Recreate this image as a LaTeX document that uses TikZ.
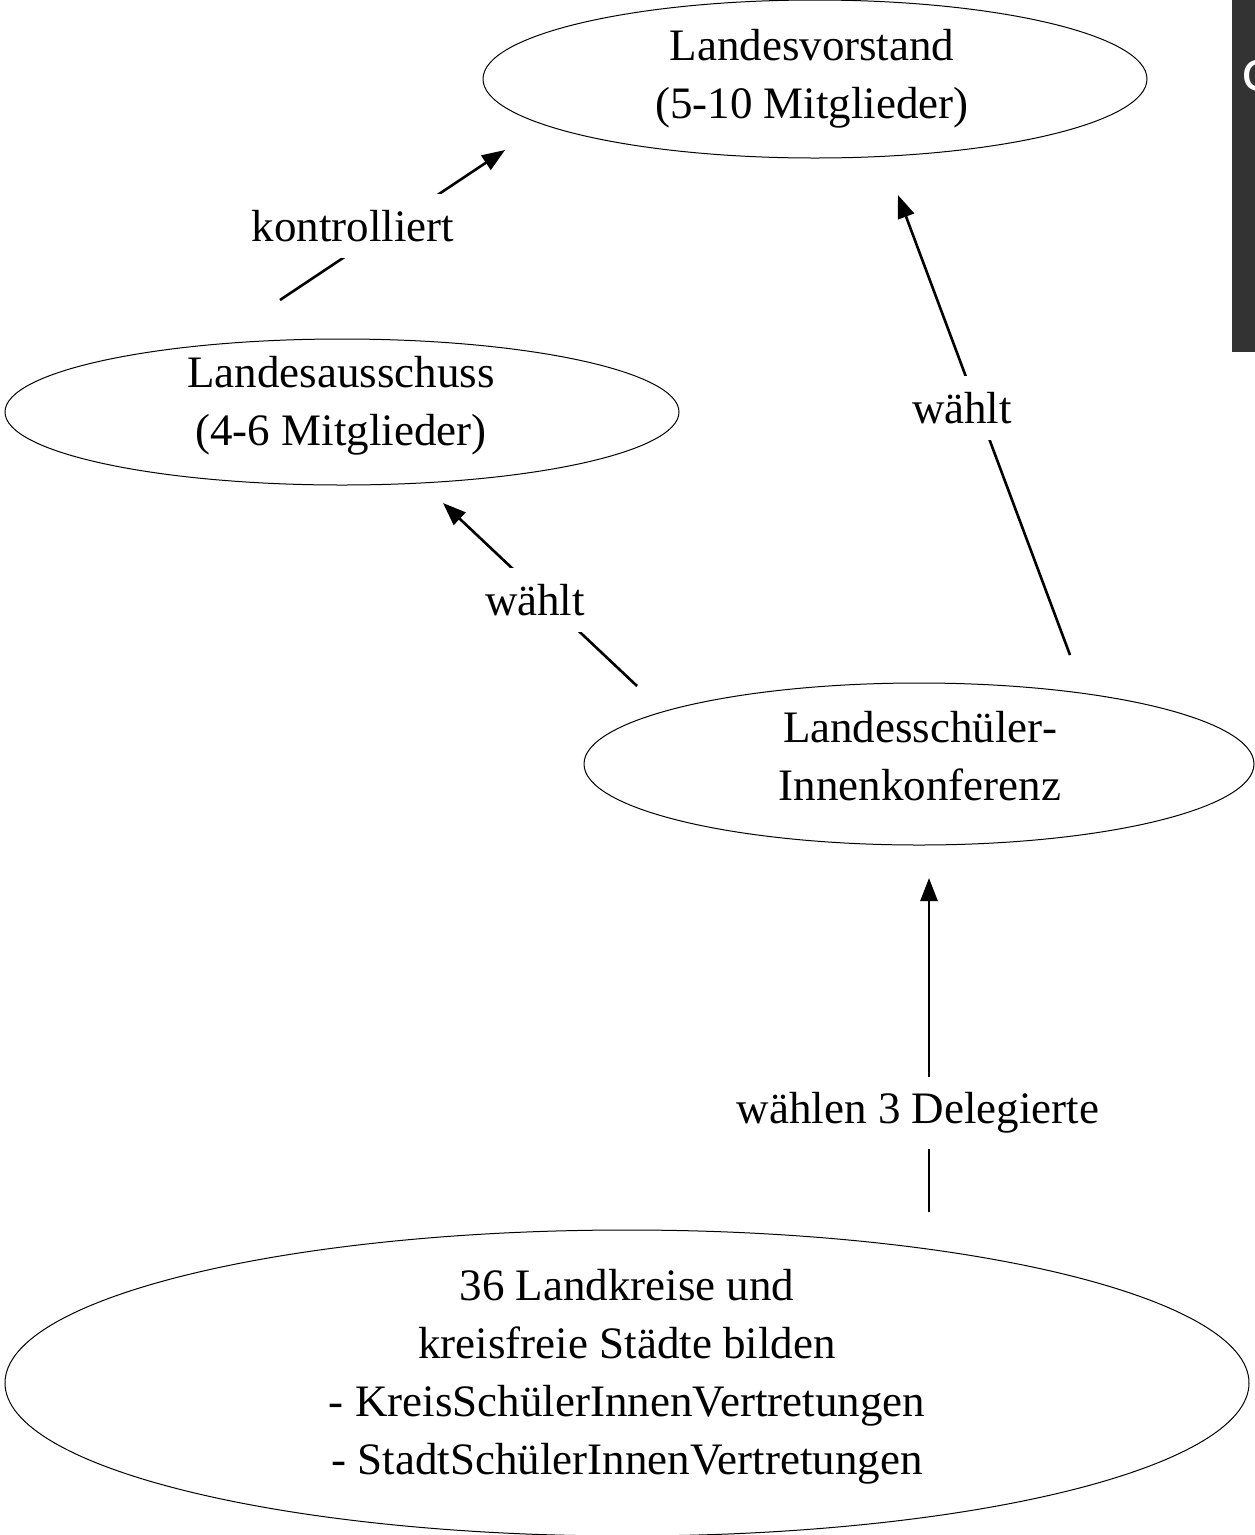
\documentclass[tikz,border=0pt]{standalone}
\usepackage{fontspec}
\setmainfont{Liberation Serif}
\newfontfamily\sidefont{DejaVu Sans}
\usetikzlibrary{shapes.geometric,arrows.meta}
\definecolor{sidebar}{HTML}{333333}
\tikzset{
  body/.style={draw=black, line width=1pt, ellipse, inner sep=0pt},
  txt/.style={align=center, font=\fontsize{45}{58}\selectfont, inner sep=0pt},
  lbl/.style={fill=white, font=\fontsize{45}{58}\selectfont, inner xsep=14pt, inner ysep=16pt},
  conn/.style={line width=2.6pt, -{Triangle[length=23pt,width=17pt]}}
}
\begin{document}
\begin{tikzpicture}[x=1pt,y=-1pt]
\useasboundingbox (0,0) rectangle (1255,1535);
% sidebar
\fill[sidebar] (1232,0) rectangle (1255,352);
\begin{scope}
\clip (1232,0) rectangle (1255,352);
\node[anchor=west, text=white, font=\sidefont\fontsize{54}{60}\selectfont, inner sep=0pt] (sidec) at (1241,76) {c};
\end{scope}
% ellipses
\node[body, minimum width=664pt, minimum height=158pt] (lv) at (815,79) {};
\node[txt] (lvt) at (812,79) {Landesvorstand\\(5-10 Mitglieder)};
\node[body, minimum width=674pt, minimum height=146pt] (la) at (342,412) {};
\node[txt] (lat) at (341,406) {Landesausschuss\\(4-6 Mitglieder)};
\node[body, minimum width=670pt, minimum height=162pt] (lk) at (919,764) {};
\node[txt] (lkt) at (920,756) {Landesschüler-\\Innenkonferenz};
\node[body, minimum width=1244pt, minimum height=306pt] (lks) at (627,1383) {};
\node[txt] (lkst) at (627,1377) {36 Landkreise und\\kreisfreie Städte bilden\\- KreisSchülerInnenVertretungen\\- StadtSchülerInnenVertretungen};
% connector end points
\coordinate (k1) at (280,300);
\coordinate (k2) at (505,150);
\coordinate (w1) at (1070,655);
\coordinate (w2) at (898,195);
\coordinate (v1) at (637,686);
\coordinate (v2) at (443,503);
\coordinate (d1) at (929,1212);
\coordinate (d2) at (929,878);
\draw[conn] (k1) -- (k2);
\draw[conn] (w1) -- (w2);
\draw[conn] (v1) -- (v2);
\draw[conn] (d1) -- (d2);
% labels
\node[lbl] (kl) at (353,226) {kontrolliert};
\node[lbl] (wl1) at (962,408) {wählt};
\node[lbl] (wl2) at (535,600) {wählt};
\node[lbl] (dl) at (918,1113) {wählen 3 Delegierte};
\end{tikzpicture}
\end{document}
